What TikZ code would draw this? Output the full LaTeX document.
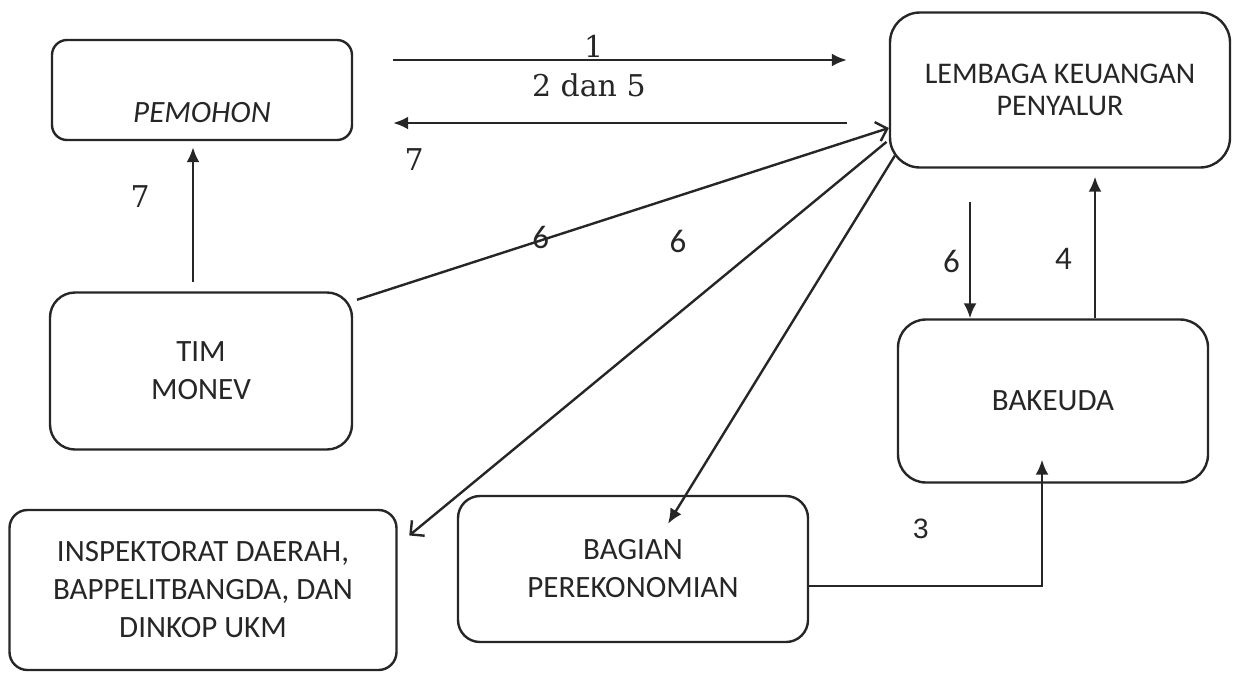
\documentclass[tikz,border=0pt]{standalone}
\usepackage{fontspec}
\usetikzlibrary{positioning, calc, arrows.meta}
\newfontfamily\boxfont{Carlito}
\newfontfamily\numfont{Liberation Sans}
\newfontfamily\serifnumfont{DejaVu Serif}

\tikzset{
    box/.style={draw=black!85, line width=2.4pt, rounded corners=20pt, align=center, text=black!85, font=\boxfont\fontsize{31}{38}\selectfont},
    flow/.style={draw=black!85, line width=2.4pt, -{Latex[length=15pt, width=13pt]}},
    openflow/.style={draw=black!85, line width=2.4pt, -{Straight Barb[length=10pt, width=20pt]}},
    serifnum/.style={inner sep=0pt, text=black!85, font=\serifnumfont\fontsize{30}{36}\selectfont},
    sansnum/.style={inner sep=0pt, text=black!85, font=\boxfont\fontsize{33}{38}\selectfont},
}

\begin{document}
\begin{tikzpicture}[x=1pt, y=-1pt]
    \useasboundingbox (0,0) rectangle (1233,673);

    \node[box, minimum width=300pt, minimum height=100pt, rounded corners=15pt, text height=64pt, text depth=0pt, font=\boxfont\itshape\fontsize{31}{36}\selectfont] (pemohon) at (202,90) {PEMOHON};
    \node[box, minimum width=340pt, minimum height=155pt, rounded corners=30pt, font=\boxfont\fontsize{30}{32}\selectfont] (lk) at (1060,90) {LEMBAGA KEUANGAN\\PENYALUR};
    \node[box, minimum width=302pt, minimum height=157pt, rounded corners=25pt] (monev) at (201,371) {TIM\\MONEV};
    \node[box, minimum width=310pt, minimum height=163pt, rounded corners=28pt] (bakeuda) at (1053,401) {BAKEUDA};
    \node[box, minimum width=350pt, minimum height=146pt, rounded corners=22pt] (bagian) at (633,569) {BAGIAN\\PEREKONOMIAN};
    \node[box, minimum width=387pt, minimum height=160pt, rounded corners=18pt] (inspektorat) at (203,590) {INSPEKTORAT DAERAH,\\BAPPELITBANGDA, DAN\\DINKOP UKM};

    \draw[flow, shorten <=40pt, shorten >=42pt] (pemohon.east |- 0,60) -- node[serifnum, pos=0.449, above=1pt] {1} node[serifnum, pos=0.44, below=13pt] {2 dan 5} (lk.west |- 0,60);
    \draw[flow, shorten <=42pt, shorten >=40pt] (lk.west |- 0,123) -- node[serifnum, pos=0.886, below=24pt] {7} (pemohon.east |- 0,123);
    \draw[flow, shorten <=9pt, shorten >=6pt] (monev.north -| 193,0) -- node[serifnum, pos=0.63, left=42pt] {7} (pemohon.south -| 193,0);

    \draw[openflow, shorten <=4pt] (monev.east |- 0,301) -- node[sansnum, pos=0.35, yshift=3pt] {6} (lk.west |- 0,128);
    \draw[openflow, shorten <=3pt, shorten >=15pt] (lk.west |- 0,140) -- node[sansnum, pos=0.25, xshift=-88pt] {6} (inspektorat.east |- 0,545);
    \draw[flow] ($(lk.south west)+(6,-13)$) -- ($(bagian.north)+(35,29)$);

    \draw[flow, shorten <=33pt] (lk.south -| 970,0) -- node[sansnum, pos=0.62, left=9pt] {6} (bakeuda.north -| 970,0);
    \draw[flow, shorten >=8pt] (bakeuda.north -| 1095,0) -- node[sansnum, pos=0.4, left=22pt] {4} (lk.south -| 1095,0);
    \draw[flow] (bagian.east |- 0,586) -| node[sansnum, pos=0.24, above=46pt, font=\numfont\fontsize{28}{34}\selectfont] {3} ($(bakeuda.south)+(-11,-24)$);
\end{tikzpicture}
\end{document}
